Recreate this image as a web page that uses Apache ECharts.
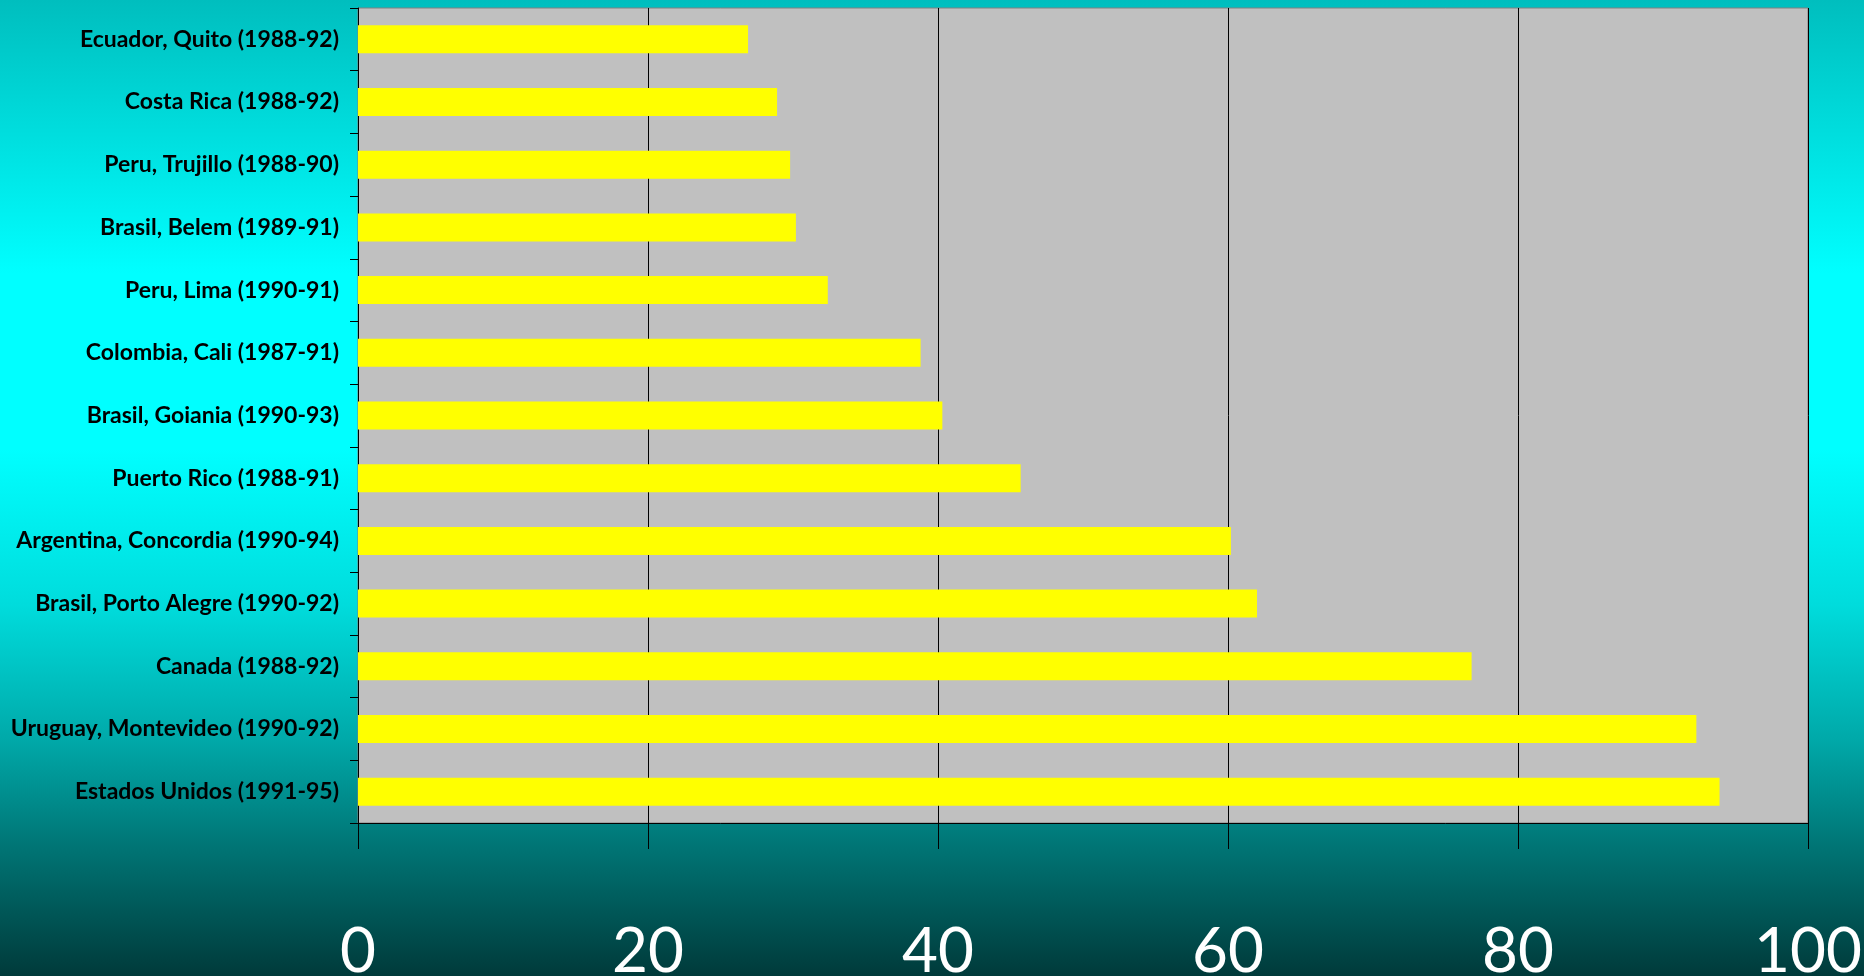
<!DOCTYPE html>
<html>
<head>
<meta charset="utf-8">
<script src="https://cdn.jsdelivr.net/npm/echarts@6/dist/echarts.min.js"></script>
<style>
  html, body { margin: 0; padding: 0; width: 1864px; height: 976px; overflow: hidden; }
  #chart { width: 1864px; height: 976px; }
</style>
</head>
<body>
<div id="chart"></div>
<script>
// Registries, top to bottom
const categories = [
  'Ecuador, Quito (1988-92)',
  'Costa Rica (1988-92)',
  'Peru, Trujillo (1988-90)',
  'Brasil, Belem (1989-91)',
  'Peru, Lima (1990-91)',
  'Colombia, Cali (1987-91)',
  'Brasil, Goiania (1990-93)',
  'Puerto Rico (1988-91)',
  'Argentina, Concordia (1990-94)',
  'Brasil, Porto Alegre (1990-92)',
  'Canada (1988-92)',
  'Uruguay, Montevideo (1990-92)',
  'Estados Unidos (1991-95)'
];
const rates = [26.9, 28.9, 29.8, 30.2, 32.4, 38.8, 40.3, 45.7, 60.2, 62.0, 76.8, 92.3, 93.9];
const xTicks = [0, 20, 40, 60, 80, 100];

const chart = echarts.init(document.getElementById('chart'));
chart.setOption({
  animation: false,
  backgroundColor: {
    type: 'linear', x: 0, y: 0, x2: 0, y2: 1,
    colorStops: [
      { offset: 0.00, color: '#00bebe' },
      { offset: 0.28, color: '#00ffff' },
      { offset: 0.46, color: '#00ffff' },
      { offset: 0.62, color: '#00dcdc' },
      { offset: 0.76, color: '#00a8a8' },
      { offset: 0.86, color: '#007878' },
      { offset: 1.00, color: '#003a3a' }
    ]
  },
  grid: {
    left: 358, right: 56, top: 8, bottom: 153,
    outerBoundsMode: 'none',
    containLabel: false,
    show: true,
    backgroundColor: '#c0c0c0',
    borderColor: '#808080',
    borderWidth: 1
  },
  xAxis: {
    type: 'value',
    min: xTicks[0],
    max: xTicks[xTicks.length - 1],
    interval: xTicks[1] - xTicks[0],
    axisLine: { show: true, lineStyle: { color: '#000', width: 1 } },
    axisTick: { show: true, length: 26, lineStyle: { color: '#000' } },
    splitLine: { show: true, lineStyle: { color: '#000', width: 1 } },
    axisLabel: {
      color: '#ffffff',
      fontFamily: 'Lato, sans-serif',
      fontSize: 62,
      margin: 98
    }
  },
  yAxis: {
    type: 'category',
    inverse: true,
    data: categories,
    axisLine: { show: true, lineStyle: { color: '#000', width: 1 } },
    axisTick: { show: true, length: 8, lineStyle: { color: '#000' } },
    splitLine: { show: false },
    axisLabel: {
      color: '#000',
      fontFamily: 'Lato, sans-serif',
      fontWeight: 'bold',
      fontSize: 23,
      margin: 19
    }
  },
  series: [{
    type: 'bar',
    data: rates,
    barWidth: 28,
    itemStyle: { color: '#ffff00' }
  }]
});
</script>
</body>
</html>
